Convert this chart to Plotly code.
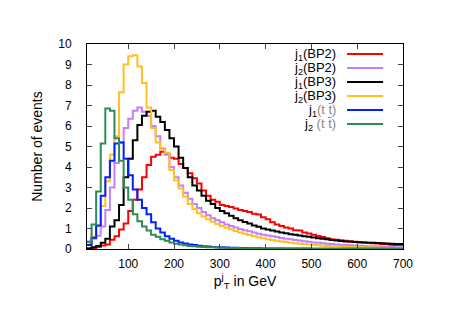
import plotly.graph_objects as go

# bin low edges in GeV (10 GeV wide bins from 10 to 700)
bin_lo = list(range(10, 700, 10))

j1_bp2 = [0.02, 0.05, 0.1, 0.17, 0.22, 0.45, 0.62, 0.95, 1.25, 1.85,
          2.4, 2.9, 3.5, 4.1, 4.5, 4.6, 4.75, 4.65, 4.45, 4.4,
          4.15, 3.95, 3.7, 3.45, 3.2, 2.85, 2.6, 2.4, 2.3, 2.15,
          2.1, 2.05, 1.98, 1.9, 1.85, 1.8, 1.72, 1.68, 1.55, 1.45,
          1.3, 1.2, 1.12, 1.05, 1.0, 0.92, 0.9, 0.8, 0.76, 0.7,
          0.64, 0.58, 0.52, 0.48, 0.45, 0.43, 0.4, 0.37, 0.35, 0.33,
          0.32, 0.3, 0.28, 0.27, 0.25, 0.23, 0.21, 0.2, 0.19]

j2_bp2 = [0.35, 0.5, 0.65, 1.1, 1.9, 3.0, 4.2, 5.2, 5.9, 6.35,
          6.75, 6.9, 6.7, 6.5, 6.0, 5.5, 4.9, 4.6, 4.0, 3.5,
          3.1, 2.75, 2.45, 2.2, 2.0, 1.8, 1.65, 1.5, 1.4, 1.3,
          1.2, 1.12, 1.05, 0.98, 0.92, 0.86, 0.8, 0.75, 0.7, 0.66,
          0.62, 0.58, 0.54, 0.5, 0.47, 0.44, 0.41, 0.38, 0.35, 0.32,
          0.3, 0.28, 0.26, 0.24, 0.22, 0.2, 0.19, 0.18, 0.17, 0.16,
          0.15, 0.14, 0.13, 0.12, 0.11, 0.1, 0.1, 0.09, 0.09]

j1_bp3 = [0.03, 0.08, 0.15, 0.3, 0.5, 1.1, 1.4, 2.15, 3.5, 4.4,
          5.3, 6.05, 6.5, 6.7, 6.75, 6.45, 6.2, 5.8, 5.4, 5.0,
          4.45, 3.95, 3.5, 3.1, 2.85, 2.6, 2.35, 2.2, 2.0, 1.85,
          1.75, 1.62, 1.5, 1.4, 1.32, 1.25, 1.15, 1.08, 1.0, 0.95,
          0.9, 0.85, 0.8, 0.77, 0.72, 0.7, 0.66, 0.62, 0.6, 0.56,
          0.52, 0.5, 0.47, 0.44, 0.41, 0.39, 0.37, 0.36, 0.34, 0.33,
          0.32, 0.31, 0.3, 0.29, 0.28, 0.27, 0.26, 0.25, 0.24]

j2_bp3 = [0.3, 0.6, 1.1, 2.1, 3.3, 4.6, 5.5, 7.65, 9.0, 9.4,
          9.45, 8.9, 8.1, 6.9, 5.9, 5.2, 4.85, 4.7, 3.85, 3.35,
          2.95, 2.55, 2.2, 1.95, 1.75, 1.58, 1.45, 1.33, 1.22, 1.12,
          1.04, 0.96, 0.88, 0.8, 0.74, 0.68, 0.62, 0.57, 0.52, 0.48,
          0.44, 0.4, 0.37, 0.34, 0.31, 0.28, 0.26, 0.24, 0.22, 0.2,
          0.18, 0.16, 0.15, 0.14, 0.13, 0.12, 0.11, 0.1, 0.09, 0.09,
          0.08, 0.08, 0.07, 0.07, 0.06, 0.06, 0.05, 0.05, 0.05]

j1_tt = [0.2, 0.55, 1.15, 2.6, 3.5, 4.3, 5.15, 5.2, 4.4, 3.6,
         2.9, 2.4, 2.0, 1.7, 1.3, 1.0, 0.8, 0.62, 0.5, 0.4,
         0.32, 0.27, 0.22, 0.19, 0.16, 0.14, 0.12, 0.1, 0.09, 0.08,
         0.07, 0.06, 0.06, 0.05, 0.05, 0.04, 0.04, 0.04, 0.03, 0.03,
         0.03, 0.03, 0.02, 0.02, 0.02, 0.02, 0.02, 0.02, 0.02, 0.01,
         0.01, 0.01, 0.01, 0.01, 0.01, 0.01, 0.01, 0.01, 0.01, 0.01,
         0.01, 0.01, 0.01, 0.01, 0.01, 0.01, 0.01, 0.01, 0.01]

j2_tt = [0.35, 1.2, 2.8, 5.15, 6.85, 6.75, 5.4, 4.3, 3.0, 2.4,
         1.7, 1.35, 1.1, 0.9, 0.7, 0.6, 0.48, 0.4, 0.32, 0.26,
         0.22, 0.18, 0.15, 0.13, 0.11, 0.1, 0.09, 0.08, 0.07, 0.06,
         0.06, 0.05, 0.05, 0.04, 0.04, 0.03, 0.03, 0.03, 0.02, 0.02,
         0.02, 0.02, 0.02, 0.01, 0.01, 0.01, 0.01, 0.01, 0.01, 0.01,
         0.01, 0.01, 0.01, 0.01, 0.01, 0.01, 0.01, 0.01, 0.01, 0.01,
         0.01, 0.01, 0.01, 0.01, 0.01, 0.01, 0.01, 0.01, 0.01]

tt = "<span style='color:#888888'>(t t\u0304)</span>"
series = [
    ("j<sub>1</sub>(BP2)", j1_bp2, "#ff0000"),
    ("j<sub>2</sub>(BP2)", j2_bp2, "#c080ff"),
    ("j<sub>1</sub>(BP3)", j1_bp3, "#000000"),
    ("j<sub>2</sub>(BP3)", j2_bp3, "#ffc020"),
    ("j<sub>1</sub>" + tt, j1_tt, "#0020ff"),
    ("j<sub>2</sub> " + tt, j2_tt, "#2e8b57"),
]

font = "Liberation Sans, Arial, sans-serif"
fig = go.Figure()

for i, (name, vals, col) in enumerate(series):
    # step histogram: repeat last value at the upper edge
    xs = bin_lo + [bin_lo[-1] + 10]
    ys = vals + [vals[-1]]
    fig.add_trace(go.Scatter(x=xs, y=ys, mode="lines", name=name,
                             line=dict(color=col, width=2, shape="hv"),
                             showlegend=False))
    # gnuplot-style key: text right aligned, sample line on the right
    yk = 0.951 - i * 0.0683
    fig.add_annotation(xref="paper", yref="paper", x=0.795, y=yk,
                       text=name, showarrow=False, xanchor="right",
                       yanchor="middle",
                       font=dict(size=13, color="#000000", family=font))
    fig.add_shape(type="line", xref="paper", yref="paper",
                  x0=0.823, x1=0.937, y0=yk, y1=yk,
                  line=dict(color=col, width=2))

# page body has an 8px margin, so the margins are shifted by that
fig.update_layout(
    width=465, height=329,
    margin=dict(l=79, r=70, t=36, b=88),
    paper_bgcolor="white", plot_bgcolor="white",
    font=dict(family=font, size=12, color="#000000"),
)
fig.update_xaxes(range=[10, 700], tickvals=[100, 200, 300, 400, 500, 600, 700],
                 ticks="inside", ticklen=5, showline=True, linecolor="#000000",
                 mirror="ticks", showgrid=False, zeroline=False,
                 ticklabelstandoff=4,
                 title=dict(text="p<sup>j</sup><sub>T</sub> in GeV", standoff=4))
fig.update_yaxes(range=[0, 10], dtick=1, ticks="inside", ticklen=5,
                 showline=True, linecolor="#000000", mirror="ticks",
                 showgrid=False, zeroline=False, ticklabelstandoff=12,
                 title=dict(text="Number of events", standoff=12))

fig.write_html("out.html")
